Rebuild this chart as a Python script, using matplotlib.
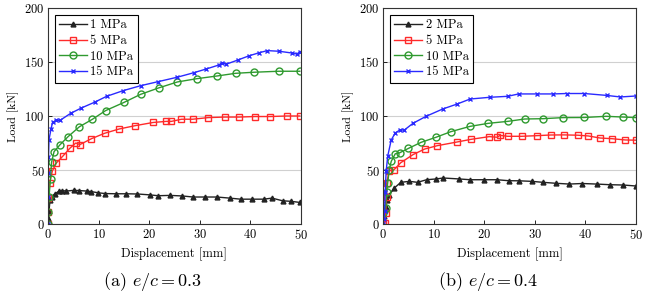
import matplotlib
matplotlib.use('Agg')
import matplotlib.pyplot as plt

plt.rcParams['font.family'] = 'serif'
plt.rcParams['font.serif'] = ['cmr10', 'DejaVu Serif']
plt.rcParams['mathtext.fontset'] = 'cm'
plt.rcParams['axes.formatter.use_mathtext'] = True

# ---- (a) e/c = 0.3 ----
a_x1 = [0, 0.1, 0.2, 0.4, 0.7, 1.3, 2.2, 2.8, 3.6, 5.1, 6.1, 7.7, 8.6, 9.8, 11.3, 13.5, 15.5, 17.7,
        20.1, 21.8, 24.1, 26.5, 28.7, 31.0, 33.4, 35.9, 38.1, 40.4, 42.7, 44.3, 46.4, 48.1, 49.8]
a_y1 = [0, 6, 12, 22, 25, 27.8, 30.5, 31, 30.5, 31.2, 31, 30.5, 30, 29, 28.2, 28, 28, 27.8,
        27, 26.2, 26.5, 26, 25, 25, 25, 24, 23, 23, 23, 24, 21.5, 21, 20]
a_x5 = [0, 0, 0, 0.33, 0.86, 1.65, 2.97, 4.3, 5.5, 6.3, 8.6, 11.2, 14.1, 17.2, 20.8, 23.4, 24.4,
        26.4, 28.6, 31.7, 35.0, 37.8, 40.9, 44.0, 47.2, 49.8]
a_y5 = [0, 11, 24, 38, 49, 56.5, 63, 70, 75, 73.5, 79, 84, 88, 91, 94, 95, 95,
        97, 97, 98.5, 99, 99, 99.5, 99.5, 100, 100]
a_x10 = [0, 0, 0.2, 0.5, 0.7, 1.2, 2.4, 4.0, 6.2, 8.8, 11.4, 15.0, 18.3, 21.9, 25.6, 29.4,
         33.4, 37.1, 40.8, 45.6, 49.8]
a_y10 = [0, 11, 25, 42, 57, 67, 73.5, 81, 90, 97, 105, 112.5, 120, 126, 131.5, 134.5,
         137, 139.5, 140.5, 141.4, 141.4]
a_x15 = [0, 0, 0, 0.1, 0.2, 0.6, 0.9, 1.6, 2.4, 4.5, 6.6, 9.2, 11.6, 14.9, 18.3, 21.8, 25.5,
         28.8, 31.3, 33.8, 34.4, 35.3, 37.6, 39.7, 41.8, 43.4, 45.7, 48.2, 49.2, 49.9]
a_y15 = [0, 25, 47, 62, 78, 88, 94, 96, 96, 102.5, 107.4, 112.7, 118.2, 123.5, 128, 131.8, 135.8,
         140, 143.5, 147.2, 149.4, 148, 151.9, 155.6, 158.6, 160.5, 159.9, 158.3, 157.4, 159.6]

# ---- (b) e/c = 0.4 ----
b_x2 = [0, 0.1, 0.3, 0.5, 0.7, 1.2, 2.2, 3.5, 5.2, 6.8, 8.6, 10.4, 11.9, 15.1, 17.2, 20.0,
        22.5, 24.8, 26.9, 29.4, 31.6, 34.2, 36.8, 39.4, 42.2, 44.8, 47.5, 50.0]
b_y2 = [0, 7, 13, 16, 22, 27, 33.3, 38.6, 39.5, 38.6, 41, 41.7, 42.6, 41.7, 41, 41,
        41, 40.1, 40, 39.5, 38.6, 37.7, 37, 37.5, 37, 36.4, 36.1, 35.2]
b_x5 = [0, 0.3, 0.5, 0.7, 0.7, 1.2, 2.1, 3.5, 5.9, 8.2, 10.7, 14.6, 17.4, 21.0, 22.6, 23.1,
        24.6, 27.4, 30.5, 33.1, 35.8, 38.5, 40.6, 42.9, 45.2, 47.9, 50.0]
b_y5 = [0, 1, 10, 24.7, 37.7, 49.4, 50, 56.8, 64.2, 69.4, 72.5, 75.9, 78.4, 80.9, 80.3, 82.1,
        81.2, 81.2, 81.8, 82.4, 82.5, 82.2, 81.5, 79.6, 79, 77.8, 77.6]
b_x10 = [0, 0.5, 0.7, 0.9, 1.2, 1.6, 2.4, 3.3, 5.0, 7.5, 10.4, 13.4, 17.2, 20.8, 24.6, 28.0,
         31.6, 35.6, 39.8, 44.1, 47.5, 50.0]
b_y10 = [10.5, 15, 30, 37.7, 50, 58, 65, 66, 70, 75.6, 80.2, 85.5, 90.4, 93.2, 95, 97.2,
         97.5, 98.5, 98.6, 99.7, 99, 98.5]
b_x15 = [0, 0.2, 0.3, 0.4, 0.6, 0.9, 1.6, 2.4, 3.3, 4.2, 5.9, 8.5, 11.8, 14.6, 17.2, 21.1,
         24.6, 26.8, 30.5, 33.6, 36.3, 39.8, 44.3, 46.9, 50.0]
b_y15 = [0, 5, 12, 29.3, 48.8, 62.7, 77.8, 84.3, 87, 87, 93.2, 99.7, 106.5, 111, 115.7, 117.3,
         118.2, 120.4, 120.4, 120.4, 120.8, 120.8, 119, 117.6, 118.5]

red = '#ff2a2a'
green = '#2f9a2f'
blue = '#2a2aff'
black = '#222222'

fig = plt.figure(figsize=(6.45, 2.94), dpi=100)
ax1 = fig.add_axes([0.0744, 0.238, 0.392, 0.735])
ax2 = fig.add_axes([0.594, 0.238, 0.392, 0.735])

panels = [
    (ax1, [(a_x1, a_y1, '1 MPa'), (a_x5, a_y5, '5 MPa'), (a_x10, a_y10, '10 MPa'), (a_x15, a_y15, '15 MPa')],
     '(a) $e/c = 0.3$', 0.236),
    (ax2, [(b_x2, b_y2, '2 MPa'), (b_x5, b_y5, '5 MPa'), (b_x10, b_y10, '10 MPa'), (b_x15, b_y15, '15 MPa')],
     '(b) $e/c = 0.4$', 0.757),
]
styles = [
    dict(color=black, marker='^', ms=3.5, mfc=black, mec=black),
    dict(color=red, marker='s', ms=4.5, mfc='none', mec=red),
    dict(color=green, marker='o', ms=5, mfc='none', mec=green),
    dict(color=blue, marker='x', ms=3.5, mew=1.0, mec=blue),
]

for ax, series, caption, cx in panels:
    for (x, y, lab), st in zip(series, styles):
        ax.plot(x, y, lw=1.0, label=lab, **st)
    ax.set_xlim(0, 50)
    ax.set_ylim(0, 200)
    ax.set_xticks([0, 10, 20, 30, 40, 50])
    ax.set_yticks([0, 50, 100, 150, 200])
    ax.grid(axis='y', color='#d0d0d0', lw=0.8)
    ax.set_axisbelow(True)
    ax.tick_params(direction='in', labelsize=9, length=3, width=0.6, pad=2.5)
    for s in ax.spines.values():
        s.set_linewidth(0.8)
        s.set_color('#333333')
    ax.set_xlabel('Displacement [mm]', fontsize=9, labelpad=4)
    ax.set_ylabel('Load [kN]', fontsize=8.5, labelpad=4)
    leg = ax.legend(loc='upper left', fontsize=9, frameon=True, fancybox=False,
                    edgecolor='black', framealpha=1, handlelength=2.2,
                    borderpad=0.35, labelspacing=0.28, borderaxespad=0.55, handletextpad=0.3)
    leg.get_frame().set_linewidth(0.8)
    fig.text(cx, 0.044, caption, ha='center', va='center', fontsize=13)

fig.savefig('out.png', dpi=100)
